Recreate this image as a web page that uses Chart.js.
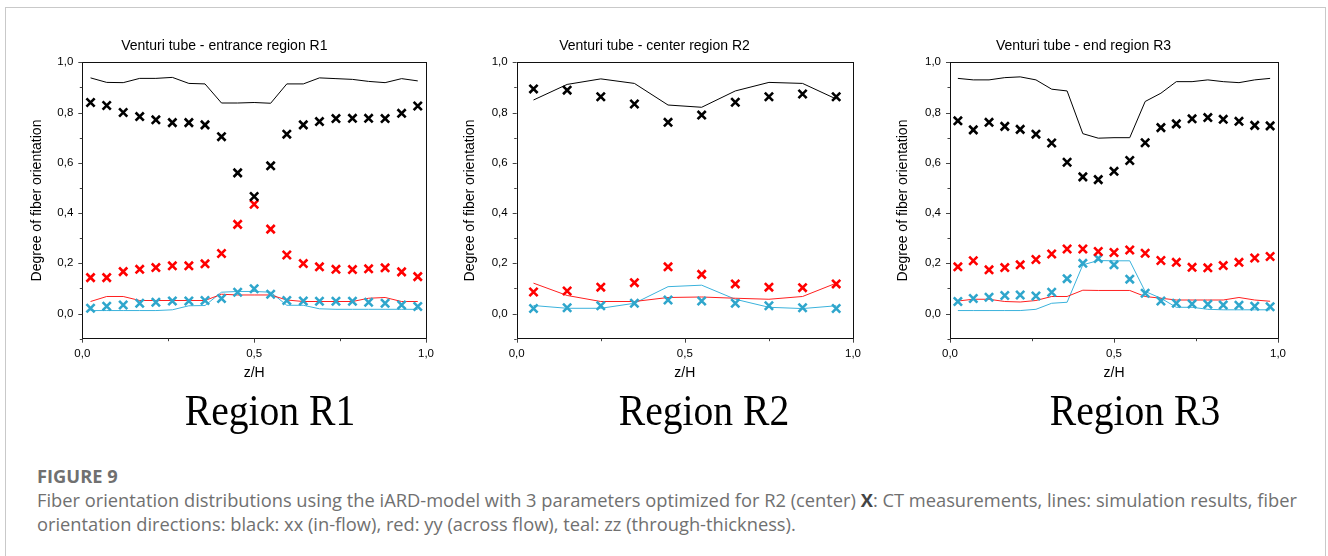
<!DOCTYPE html>
<html>
<head>
<meta charset="utf-8">
<script src="https://cdn.jsdelivr.net/npm/chart.js@4.4.0/dist/chart.umd.min.js"></script>
<style>
  body { margin: 0; background: #fff; width: 1328px; height: 556px; overflow: hidden; position: relative; }
  #frame { position: absolute; left: 5px; top: 7px; width: 1319px; height: 600px; border: 1px solid #c9c9c9; }
  canvas { position: absolute; top: 30px; }
  .region { position: absolute; top: 389px; font-family: 'Liberation Serif', 'Times New Roman', serif; font-size: 44px; line-height: 44px; color: #000; white-space: nowrap; transform: translateX(-50%) scaleX(0.9); }
  .cap { position: absolute; left: 37px; font-family: 'Open Sans', 'Noto Sans', sans-serif; color: #707070; white-space: nowrap; }
  #figno { top: 464px; font-size: 18.3px; line-height: 24px; font-weight: 700; }
  #captext { top: 488px; font-size: 18.3px; line-height: 24px; }
  #captext b { color: #444; }
</style>
</head>
<body>
<div id="frame"></div>
<canvas id="c1" width="420" height="360" style="left:22px"></canvas>
<canvas id="c2" width="420" height="360" style="left:449px"></canvas>
<canvas id="c3" width="420" height="360" style="left:874px"></canvas>
<div class="region" style="left:270px">Region R1</div>
<div class="region" style="left:704px">Region R2</div>
<div class="region" style="left:1135px">Region R3</div>
<div class="cap" id="figno">FIGURE 9</div>
<div class="cap" id="captext">Fiber orientation distributions using the iARD-model with 3 parameters optimized for R2 (center) <b>X</b>: CT measurements, lines: simulation results, fiber<br>orientation directions: black: xx (in-flow), red: yy (across flow), teal: zz (through-thickness).</div>
<script>
// positions along the channel height (z/H)
const xR13 = [0.024, 0.071, 0.119, 0.167, 0.214, 0.262, 0.310, 0.357, 0.405, 0.452, 0.500, 0.548, 0.595, 0.643, 0.690, 0.738, 0.786, 0.833, 0.881, 0.929, 0.976];
const xR2 = [0.05, 0.15, 0.25, 0.35, 0.45, 0.55, 0.65, 0.75, 0.85, 0.95];

// region R1 (entrance)
const r1XXMeas = [0.840, 0.828, 0.800, 0.784, 0.771, 0.760, 0.760, 0.751, 0.704, 0.560, 0.466, 0.588, 0.714, 0.751, 0.764, 0.776, 0.777, 0.777, 0.776, 0.797, 0.826];
const r1YYMeas = [0.143, 0.143, 0.167, 0.176, 0.183, 0.190, 0.190, 0.198, 0.239, 0.355, 0.435, 0.336, 0.233, 0.199, 0.186, 0.176, 0.175, 0.178, 0.182, 0.166, 0.147];
const r1ZZMeas = [0.021, 0.029, 0.034, 0.041, 0.045, 0.050, 0.050, 0.052, 0.060, 0.085, 0.099, 0.077, 0.052, 0.050, 0.049, 0.049, 0.049, 0.045, 0.041, 0.034, 0.028];
const r1XXSim = [0.938, 0.920, 0.919, 0.936, 0.936, 0.940, 0.916, 0.914, 0.838, 0.838, 0.840, 0.837, 0.914, 0.914, 0.938, 0.935, 0.932, 0.924, 0.919, 0.935, 0.926];
const r1YYSim = [0.048, 0.068, 0.068, 0.052, 0.052, 0.052, 0.052, 0.052, 0.077, 0.074, 0.074, 0.074, 0.054, 0.048, 0.048, 0.048, 0.048, 0.061, 0.064, 0.048, 0.048];
const r1ZZSim = [0.012, 0.012, 0.012, 0.012, 0.012, 0.015, 0.031, 0.032, 0.085, 0.088, 0.088, 0.085, 0.033, 0.033, 0.019, 0.017, 0.017, 0.017, 0.017, 0.017, 0.017];

// region R2 (center)
const r2XXMeas = [0.894, 0.889, 0.863, 0.834, 0.761, 0.790, 0.841, 0.863, 0.874, 0.863];
const r2YYMeas = [0.086, 0.090, 0.105, 0.123, 0.186, 0.156, 0.118, 0.105, 0.103, 0.118];
const r2ZZMeas = [0.020, 0.023, 0.031, 0.041, 0.054, 0.050, 0.041, 0.031, 0.023, 0.020];
const r2XXSim = [0.850, 0.912, 0.934, 0.916, 0.830, 0.821, 0.886, 0.920, 0.916, 0.854];
const r2YYSim = [0.121, 0.072, 0.048, 0.048, 0.064, 0.066, 0.061, 0.057, 0.068, 0.121];
const r2ZZSim = [0.032, 0.021, 0.021, 0.041, 0.107, 0.113, 0.057, 0.025, 0.020, 0.031];

// region R3 (end)
const r3XXMeas = [0.767, 0.731, 0.761, 0.745, 0.733, 0.714, 0.679, 0.602, 0.544, 0.533, 0.566, 0.609, 0.680, 0.740, 0.755, 0.775, 0.780, 0.773, 0.765, 0.749, 0.747];
const r3YYMeas = [0.186, 0.210, 0.174, 0.183, 0.194, 0.215, 0.237, 0.257, 0.257, 0.247, 0.243, 0.253, 0.240, 0.211, 0.204, 0.184, 0.182, 0.191, 0.204, 0.221, 0.227];
const r3ZZMeas = [0.048, 0.060, 0.065, 0.072, 0.074, 0.070, 0.085, 0.139, 0.200, 0.219, 0.194, 0.137, 0.081, 0.050, 0.041, 0.038, 0.037, 0.034, 0.033, 0.029, 0.027];
const r3XXSim = [0.936, 0.930, 0.930, 0.939, 0.942, 0.930, 0.893, 0.886, 0.716, 0.698, 0.700, 0.700, 0.844, 0.877, 0.923, 0.923, 0.930, 0.923, 0.919, 0.930, 0.936];
const r3YYSim = [0.050, 0.057, 0.057, 0.048, 0.046, 0.052, 0.068, 0.068, 0.093, 0.092, 0.092, 0.092, 0.068, 0.061, 0.054, 0.054, 0.054, 0.054, 0.064, 0.054, 0.049];
const r3ZZSim = [0.012, 0.012, 0.012, 0.012, 0.012, 0.017, 0.041, 0.045, 0.194, 0.211, 0.210, 0.210, 0.088, 0.061, 0.025, 0.025, 0.017, 0.015, 0.015, 0.015, 0.015];

// axis ticks
const xTickValues = [0, 0.5, 1];
const xMinorTicks = [0.25, 0.75];
const yTickValues = [0, 0.2, 0.4, 0.6, 0.8, 1.0];
const yMinorTicks = [-0.1, 0.1, 0.3, 0.5, 0.7, 0.9];

const titles = ['Venturi tube - entrance region R1', 'Venturi tube - center region R2', 'Venturi tube - end region R3'];

Chart.defaults.font.family = "'Liberation Sans', Arial, sans-serif";
Chart.defaults.color = '#000';

const fmt = v => Number(v).toFixed(1).replace('.', ',');
const pts = (xs, ys) => xs.map((x, i) => ({ x: x, y: ys[i] }));

// box around the plot and small outward tick marks
const frameBox = {
    id: 'frameBox',
    afterDatasetsDraw(chart) {
        const { ctx, chartArea: a, scales } = chart;
        ctx.save();
        ctx.lineWidth = 1;
        ctx.strokeStyle = '#111';
        ctx.strokeRect(Math.round(a.left) + 0.5, Math.round(a.top) + 0.5, Math.round(a.right - a.left), Math.round(a.bottom - a.top));
        ctx.strokeStyle = '#444';
        ctx.beginPath();
        yTickValues.forEach(v => { const y = Math.round(scales.y.getPixelForValue(v)) + 0.5; ctx.moveTo(a.left, y); ctx.lineTo(a.left - 4, y); });
        yMinorTicks.forEach(v => { const y = Math.round(scales.y.getPixelForValue(v)) + 0.5; ctx.moveTo(a.left, y); ctx.lineTo(a.left - 2.5, y); });
        xTickValues.forEach(v => { const x = Math.round(scales.x.getPixelForValue(v)) + 0.5; ctx.moveTo(x, a.bottom); ctx.lineTo(x, a.bottom + 4); });
        xMinorTicks.forEach(v => { const x = Math.round(scales.x.getPixelForValue(v)) + 0.5; ctx.moveTo(x, a.bottom); ctx.lineTo(x, a.bottom + 2.5); });
        ctx.stroke();
        ctx.restore();
    }
};

function meas(xs, ys, color) {
    return { data: pts(xs, ys), showLine: false, pointStyle: 'crossRot', pointRadius: 5.8, borderWidth: 2.6, borderColor: color, backgroundColor: color };
}
function sim(xs, ys, color) {
    return { data: pts(xs, ys), showLine: true, pointRadius: 0, borderWidth: 1, borderColor: color, tension: 0 };
}

function makeChart(id, title, xs, series, yWidth, yTitlePad, rightPad) {
    const ctx = document.getElementById(id).getContext('2d');
    new Chart(ctx, {
        type: 'scatter',
        data: {
            datasets: [
                meas(xs, series[0], '#000000'),
                meas(xs, series[1], '#ff0000'),
                meas(xs, series[2], '#2fa6cc'),
                sim(xs, series[3], '#000000'),
                sim(xs, series[4], '#ff1f1f'),
                sim(xs, series[5], '#3ab2dc')
            ]
        },
        plugins: [frameBox],
        options: {
            responsive: false,
            animation: false,
            layout: { padding: { left: 0, right: rightPad, top: 0, bottom: 0 } },
            plugins: {
                legend: { display: false },
                tooltip: { enabled: false },
                title: { display: true, text: title, color: '#000', font: { size: 14, weight: 'normal' }, padding: { top: 7.5, bottom: 8 } }
            },
            scales: {
                x: {
                    type: 'linear', min: 0, max: 1,
                    grid: { display: false, drawTicks: false },
                    border: { display: false },
                    afterBuildTicks: axis => { axis.ticks = xTickValues.map(v => ({ value: v })); },
                    afterFit: axis => { axis.height = 51.3; },
                    ticks: { padding: 8, color: '#000', font: { size: 11.5 }, maxRotation: 0, autoSkip: false, callback: v => fmt(v) },
                    title: { display: true, text: 'z/H', color: '#000', font: { size: 14 }, padding: { top: 0, bottom: 8.3 } }
                },
                y: {
                    type: 'linear', min: -0.1, max: 1.0,
                    grid: { display: false, drawTicks: false },
                    border: { display: false },
                    afterBuildTicks: axis => { axis.ticks = yTickValues.map(v => ({ value: v })); },
                    afterFit: axis => { axis.width = yWidth; },
                    ticks: { padding: 9, color: '#000', font: { size: 11.5 }, autoSkip: false, callback: v => fmt(v) },
                    title: { display: true, text: 'Degree of fiber orientation', color: '#000', font: { size: 14 }, padding: { top: yTitlePad, bottom: 0 } }
                }
            }
        }
    });
}

makeChart('c1', titles[0], xR13, [r1XXMeas, r1YYMeas, r1ZZMeas, r1XXSim, r1YYSim, r1ZZSim], 60.3, 6.3, 15.3);
makeChart('c2', titles[1], xR2, [r2XXMeas, r2YYMeas, r2ZZMeas, r2XXSim, r2YYSim, r2ZZSim], 67.7, 12.6, 9);
makeChart('c3', titles[2], xR13, [r3XXMeas, r3YYMeas, r3ZZMeas, r3XXSim, r3YYSim, r3ZZSim], 76, 20.9, 1);
</script>
</body>
</html>
